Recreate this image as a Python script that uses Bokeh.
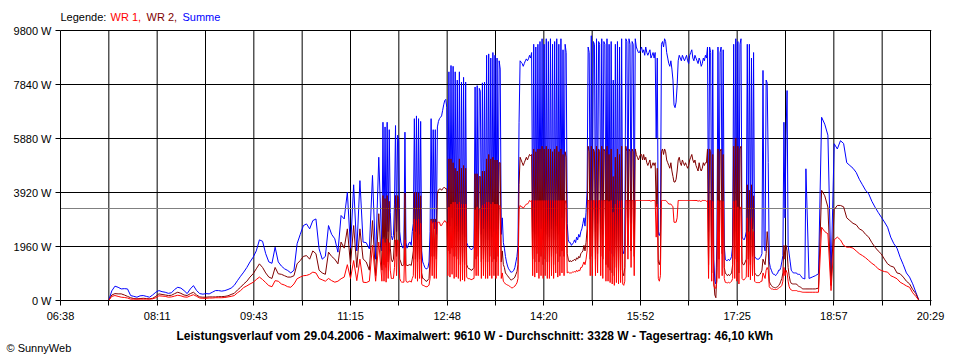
from bokeh.plotting import figure
from bokeh.models import Range1d, FixedTicker, Title
from bokeh.core.properties import value
from bokeh.embed import file_html
from bokeh.resources import INLINE

# ---- data ----
# morning: one sample every 3 minutes from 07:00
morning_start, morning_step = 7 * 3600, 180
# midday: one sample every minute from 11:45
midday_start, midday_step = 11 * 3600 + 45 * 60, 60
# evening: one sample every 3 minutes from 18:33
evening_start, evening_step = 18 * 3600 + 33 * 60, 180

summe_morning = [
    0, 0, 0, 0, 0, 0, 0, 0, 0, 350,
    520, 480, 420, 430, 420, 180, 150, 120, 170, 180,
    150, 120, 200, 300, 360, 320, 300, 260, 280, 400,
    480, 450, 360, 250, 420, 540, 360, 250, 230, 250,
    240, 300, 360, 360, 340, 360, 400, 450, 550, 720,
    880, 1030, 1200, 1400, 1570, 1800, 2200, 2150, 1700, 1400,
    1350, 1935, 1400, 1250, 1150, 1090, 1000, 1100, 2060, 2400,
    2720, 2780, 2600, 2900, 2960, 1875, 1500, 1600, 2720, 2400,
    2240, 1755, 3085, 2960, 3930, 1900, 4200, 1800, 4350, 2120,
    2100, 1875, 4540, 1500, 5200,
]
wr2_morning = [
    0, 0, 0, 0, 0, 0, 0, 0, 0, 200,
    250, 240, 240, 200, 150, 100, 70, 60, 70, 80,
    70, 60, 80, 150, 240, 220, 200, 180, 190, 250,
    300, 260, 200, 180, 250, 300, 200, 130, 120, 120,
    130, 130, 130, 140, 140, 150, 170, 220, 260, 380,
    480, 600, 700, 850, 970, 1150, 1330, 1200, 1000, 850,
    800, 1200, 970, 950, 900, 850, 850, 900, 1330, 1450,
    1600, 1630, 1500, 1800, 1700, 1100, 1000, 950, 1755, 1600,
    1500, 1330, 2120, 1900, 2600, 1300, 2720, 1200, 2600, 1510,
    1400, 1100, 2900, 900, 3150,
]
wr1_morning = [
    0, 0, 0, 0, 0, 0, 0, 0, 0, 150,
    180, 150, 120, 110, 90, 50, 50, 50, 50, 50,
    50, 50, 60, 100, 170, 160, 150, 120, 130, 160,
    190, 170, 130, 120, 170, 210, 150, 90, 80, 80,
    90, 90, 100, 100, 100, 110, 130, 150, 180, 280,
    360, 470, 530, 600, 660, 760, 850, 760, 650, 540,
    500, 720, 700, 600, 560, 500, 480, 600, 790, 850,
    900, 910, 950, 1030, 1000, 800, 750, 700, 800, 720,
    665, 700, 790, 850, 1300, 800, 1450, 720, 1500, 665,
    650, 700, 2000, 700, 2120,
]

summe_midday = [
    1800, 6470, 2300, 6300, 2000, 6470, 2500, 6200, 3200, 2360,
    2200, 2360, 3500, 6350, 2500, 6000, 5800, 2500, 2120, 2000,
    1900, 2000, 6110, 2100, 1900, 2000, 2100, 2120, 2000, 2500,
    2800, 6600, 2500, 6700, 2200, 6600, 2400, 6500, 1800, 1400,
    1300, 1200, 1150, 1150, 1200, 1400, 2500, 6600, 2800, 6200,
    2600, 6200, 2400, 6300, 6500, 6600, 6650, 6700, 6900, 7100,
    7260, 7300, 7000, 2800, 8300, 2700, 8530, 3000, 8500, 2600,
    8300, 2700, 8000, 2500, 8300, 2200, 7930, 2400, 8100, 2300,
    7930, 2100, 2000, 1950, 1900, 1850, 1850, 1900, 2000, 7750,
    2500, 7800, 2600, 7700, 7600, 2400, 7900, 2600, 7930, 2200,
    8900, 2200, 8950, 2600, 8800, 2300, 9000, 2500, 8900, 2400,
    8800, 2600, 8700, 8400, 2400, 3000, 2100, 1900, 1600, 1400,
    1250, 1150, 1100, 1030, 1030, 1050, 1100, 1200, 1400, 1600,
    2000, 6470, 8700, 8650, 8600, 8500, 8600, 8700, 8770, 8700,
    8770, 8900, 8800, 9000, 2500, 9300, 2400, 9200, 2800, 9300,
    2300, 9400, 2600, 9500, 2200, 9300, 2500, 9500, 2400, 9400,
    2300, 9500, 2600, 9300, 2200, 9400, 2700, 9500, 2400, 9300,
    2500, 9500, 3000, 9100, 2600, 9300, 9000, 2800, 2200, 2100,
    2100, 2000, 2050, 2100, 2200, 2100, 2300, 2200, 2400, 2300,
    2500, 2600, 2800, 3000, 2700, 3200, 4000, 9200, 9000, 2500,
    9610, 2600, 9400, 9300, 2500, 9500, 2800, 9400, 9300, 2600,
    9500, 2400, 9400, 9300, 2200, 9500, 2000, 9300, 1800, 9400,
    1700, 8000, 1600, 9300, 2000, 9400, 1700, 9200, 1900, 9500,
    1800, 1700, 2000, 9500, 9400, 3000, 9500, 9300, 2800, 9400,
    9300, 2600, 9500, 9200, 9100, 9000, 9000, 9100, 9200, 9000,
    9100, 8900, 9200, 9000, 8900, 9000, 9100, 8800, 8900, 9000,
    8800, 9000, 5900, 8800, 2400, 2360, 2500, 9300, 9400, 9200,
    9500, 9400, 9000, 8800, 8600, 8500, 8700, 8400, 8000, 7100,
    7000, 7200, 7800, 8700, 8900, 8800, 8700, 8900, 8800, 8700,
    8800, 8900, 8700, 8600, 8900, 9000, 9100, 8800, 8700, 8900,
    8800, 8700, 8600, 8800, 8700, 8500, 8600, 8800, 8700, 8900,
    8800, 9200, 2500, 9200, 9000, 2000, 9100, 1500, 700, 600,
    2000, 9200, 2500, 9000, 9200, 2800, 9100, 2000, 1500, 1450,
    1450, 1500, 1450, 1500, 1600, 2000, 9300, 2500, 9500, 2200,
    9400, 2000, 9300, 9500, 2300, 2240, 2200, 2300, 2500, 9300,
    2500, 9300, 2200, 8800, 2600, 9000, 1600, 1550, 1500, 1500,
    1500, 1550, 1600, 1700, 8350, 2000, 1800, 8000, 7900, 5000,
    1400, 1200, 1100, 1000, 950, 950, 900, 950, 1000, 1100,
    1100, 1200, 1400, 1630, 6470, 3000, 6000, 7620, 2000, 1690,
    1400, 1100, 1050, 1000, 1000, 1000, 1000, 950, 950, 950,
    900, 850, 800, 800, 780, 4780,
]
wr2_midday = [
    1100, 3810, 1300, 3700, 1200, 3810, 1400, 3600, 1900, 1500,
    1400, 1500, 2200, 3810, 1600, 3810, 3700, 1500, 1400, 1270,
    1270, 1300, 3900, 1300, 1270, 1270, 1300, 1300, 1270, 1500,
    1800, 3930, 1500, 3930, 1400, 3900, 1500, 3800, 1000, 800,
    790, 750, 700, 700, 750, 800, 1500, 2960, 1600, 2960,
    1600, 2960, 1500, 3900, 4000, 4050, 4050, 4000, 4050, 4100,
    4100, 4050, 4050, 1800, 5140, 1700, 5140, 1900, 5000, 1600,
    4800, 1600, 4700, 1500, 5140, 1300, 4800, 1400, 4900, 1300,
    4800, 1300, 1200, 1150, 1150, 1100, 1100, 1150, 1200, 4600,
    1500, 4600, 1600, 4500, 4500, 1400, 4700, 1500, 4700, 1400,
    5140, 1400, 5300, 1600, 5140, 1400, 5200, 1500, 5100, 1400,
    5100, 1600, 5000, 5000, 1400, 1800, 1300, 1200, 1000, 950,
    900, 850, 800, 750, 750, 780, 800, 850, 950, 1050,
    1300, 4200, 5200, 5100, 5000, 4900, 5000, 5100, 5200, 5100,
    5200, 5300, 5250, 5300, 1500, 5500, 1400, 5400, 1700, 5500,
    1400, 5500, 1600, 5600, 1300, 5500, 1500, 5600, 1400, 5500,
    1400, 5500, 1600, 5400, 1300, 5500, 1700, 5600, 1400, 5400,
    1600, 5500, 1800, 5300, 1600, 5400, 5200, 1700, 1500, 1400,
    1450, 1400, 1450, 1450, 1500, 1450, 1550, 1500, 1600, 1550,
    1700, 1750, 1800, 2000, 1800, 2100, 2600, 5600, 5400, 1500,
    5600, 1600, 5500, 5400, 1500, 5600, 1700, 5500, 5400, 1600,
    5600, 1500, 5500, 5400, 1300, 5600, 1200, 5300, 1100, 5500,
    1000, 4500, 900, 5200, 1200, 5500, 1000, 5300, 1100, 5600,
    1000, 900, 1200, 5600, 5400, 2000, 5500, 5400, 1800, 5500,
    5400, 1600, 5500, 5300, 5200, 5100, 5200, 5300, 5300, 5100,
    5300, 5100, 5200, 5000, 4900, 5000, 5100, 4800, 4900, 5000,
    4900, 5000, 3400, 4800, 1400, 1300, 1500, 5400, 5500, 5300,
    5500, 5400, 5100, 5000, 4900, 4800, 5000, 4700, 4500, 4300,
    4300, 4400, 4700, 5100, 5200, 5000, 4900, 5100, 5000, 4900,
    5000, 4900, 4800, 4900, 5100, 5200, 5300, 5100, 5000, 5100,
    4900, 4800, 4700, 5000, 4800, 4700, 4800, 5000, 4900, 5000,
    5000, 5500, 1300, 5500, 5400, 1000, 5300, 700, 200, 100,
    1200, 5500, 1500, 5400, 5500, 1700, 5300, 1200, 1000, 950,
    900, 950, 900, 950, 1000, 1300, 5600, 1500, 5900, 1400,
    5600, 1000, 5500, 5600, 1400, 1300, 1300, 1400, 1500, 4200,
    1500, 4000, 1300, 4200, 1600, 3800, 1000, 950, 900, 900,
    900, 950, 1000, 1100, 1500, 1400, 1300, 1700, 2500, 2000,
    700, 600, 550, 500, 480, 470, 460, 480, 500, 550,
    600, 700, 800, 1000, 2000, 1500, 2000, 1800, 1200, 900,
    700, 620, 605, 600, 600, 600, 600, 550, 520, 500,
    480, 450, 420, 420, 420, 420,
]
wr1_midday = [
    700, 2240, 700, 2100, 665, 2240, 800, 2100, 1100, 800,
    800, 800, 1200, 2200, 900, 2200, 2100, 800, 700, 665,
    665, 665, 2200, 700, 665, 665, 700, 700, 665, 800,
    900, 2960, 800, 2900, 700, 2960, 800, 2800, 600, 545,
    545, 520, 500, 500, 520, 560, 800, 2900, 900, 2840,
    800, 2840, 800, 2840, 2840, 2840, 2720, 2720, 2800, 2840,
    2900, 2840, 2840, 900, 3390, 850, 3500, 950, 3570, 800,
    3570, 850, 3500, 800, 3570, 700, 3500, 750, 3500, 700,
    3500, 850, 800, 790, 790, 760, 760, 790, 800, 3300,
    900, 3400, 900, 3300, 3300, 800, 3450, 900, 3500, 800,
    3570, 800, 3570, 900, 3500, 800, 3570, 900, 3500, 800,
    3500, 900, 3450, 3400, 800, 1000, 700, 650, 600, 580,
    560, 545, 520, 480, 460, 460, 500, 520, 580, 640,
    800, 3300, 3450, 3400, 3400, 3350, 3400, 3450, 3500, 3500,
    3550, 3630, 3600, 3630, 900, 3630, 850, 3630, 1000, 3630,
    800, 3630, 900, 3630, 800, 3630, 900, 3630, 800, 3630,
    800, 3630, 900, 3630, 800, 3630, 1000, 3630, 850, 3630,
    900, 3630, 1000, 3630, 900, 3630, 3500, 1000, 1030, 1000,
    1000, 1000, 1030, 1030, 1050, 1030, 1100, 1050, 1100, 1080,
    1200, 1200, 1300, 1400, 1300, 1500, 1800, 3630, 3630, 900,
    3630, 900, 3630, 3630, 900, 3630, 1000, 3630, 3630, 900,
    3630, 800, 3630, 3630, 700, 3630, 700, 3600, 650, 3630,
    600, 3200, 550, 3500, 650, 3630, 600, 3600, 650, 3630,
    600, 550, 700, 3630, 3630, 1500, 3630, 3630, 1200, 3630,
    3630, 900, 3630, 3630, 3630, 3630, 3630, 3630, 3630, 3630,
    3630, 3630, 3630, 3630, 3630, 3630, 3630, 3600, 3630, 3630,
    3630, 3630, 2300, 3500, 800, 700, 900, 3630, 3630, 3630,
    3630, 3630, 3600, 3550, 3500, 3500, 3500, 3450, 3400, 2840,
    2840, 2840, 3000, 3630, 3630, 3630, 3630, 3630, 3630, 3630,
    3630, 3630, 3630, 3630, 3630, 3630, 3630, 3630, 3630, 3630,
    3630, 3630, 3600, 3630, 3600, 3600, 3630, 3630, 3630, 3630,
    3600, 3630, 800, 3630, 3630, 700, 3600, 545, 450, 450,
    700, 3630, 800, 3600, 3630, 900, 3600, 800, 660, 650,
    640, 660, 640, 660, 700, 800, 3600, 800, 3630, 700,
    3400, 600, 3300, 3400, 800, 750, 750, 800, 850, 3000,
    850, 2500, 750, 3000, 900, 2500, 700, 660, 650, 650,
    650, 650, 700, 700, 1000, 900, 800, 1100, 1200, 1100,
    500, 450, 420, 420, 400, 400, 400, 400, 420, 450,
    480, 500, 550, 700, 1200, 900, 1100, 1000, 700, 500,
    420, 380, 360, 360, 360, 360, 360, 340, 330, 330,
    320, 310, 300, 300, 300, 300,
]

summe_evening = [
    800, 850, 900, 970, 6650, 6400, 6000, 900, 5690,
    5500, 5800, 5700, 5000, 4900, 4800, 4650, 4400, 4200, 4000,
    3870, 3600, 3390, 3200, 3025, 2850, 2660, 2300, 2060, 1900,
    1570, 1300, 1000, 850, 605, 300, 0,
]
wr2_evening = [
    420, 420, 420, 450, 4000, 3800, 3390, 545, 3300,
    3450, 3450, 3400, 3000, 2900, 2800, 2750, 2600, 2540, 2400,
    2300, 2100, 1935, 1800, 1690, 1500, 1330, 1250, 1210, 1000,
    970, 850, 700, 605, 400, 250, 0,
]
wr1_evening = [
    300, 300, 300, 300, 2660, 2500, 2420, 360, 2200,
    2300, 2200, 2000, 1935, 1935, 1900, 1800, 1700, 1630, 1550,
    1450, 1350, 1270, 1150, 1090, 1050, 1030, 900, 850, 790,
    665, 600, 530, 480, 280, 150, 0,
]

average = 3328

x_start = 23880   # 06:38 in seconds
x_end = 73740     # 20:29 in seconds
x_tick_step = 2770
x_tick_labels = ["06:38", "", "08:11", "", "09:43", "", "11:15", "", "12:48", "",
                 "14:20", "", "15:52", "", "17:25", "", "18:57", "", "20:29"]
y_ticks = [0, 1960, 3920, 5880, 7840, 9800]
y_tick_labels = ["0 W", "1960 W", "3920 W", "5880 W", "7840 W", "9800 W"]

title_text = ("Leistungsverlauf vom 29.04.2006 - Maximalwert: 9610 W - "
              "Durchschnitt: 3328 W - Tagesertrag: 46,10 kWh")
legend_texts = ["Legende:", "WR 1,", "WR 2,", "Summe"]
legend_colors = ["black", "#FF0000", "#800000", "#0000FF"]

# ---- build ----
def stitch(parts):
    ts, vs = [], []
    for start, step, vals in parts:
        ts += [start + step * i for i in range(len(vals))]
        vs += list(vals)
    return ts, vs

t_s, summe = stitch([(morning_start, morning_step, summe_morning),
                     (midday_start, midday_step, summe_midday),
                     (evening_start, evening_step, summe_evening)])
t_2, wr2 = stitch([(morning_start, morning_step, wr2_morning),
                   (midday_start, midday_step, wr2_midday),
                   (evening_start, evening_step, wr2_evening)])
t_1, wr1 = stitch([(morning_start, morning_step, wr1_morning),
                   (midday_start, midday_step, wr1_midday),
                   (evening_start, evening_step, wr1_evening)])

x_ticks = [x_start + x_tick_step * k for k in range(len(x_tick_labels))]

FONT = "Liberation Sans"
FRAME_W, FRAME_H = 870, 270      # pixel size of the 06:38-20:29 x 0-9800 W box
TOP_PX = 30                      # room above the box for the legend line
sec_per_px = (x_end - x_start) / FRAME_W
w_per_px = y_ticks[-1] / FRAME_H

p = figure(width=960, height=360,
           x_range=Range1d(x_start, x_end + sec_per_px),
           y_range=Range1d(0, y_ticks[-1] + TOP_PX * w_per_px),
           output_backend="svg", toolbar_location=None,
           min_border_left=60, min_border_right=29, min_border_top=0,
           min_border_bottom=60)
p.background_fill_color = "white"
p.border_fill_color = "white"
p.outline_line_color = None

xt = FixedTicker(ticks=x_ticks)
yt = FixedTicker(ticks=y_ticks)
p.xaxis.ticker = xt
p.yaxis.ticker = yt
p.ygrid.ticker = yt
p.xgrid.visible = False
p.yaxis.bounds = (y_ticks[0], y_ticks[-1])
p.xaxis.major_label_overrides = {t: l for t, l in zip(x_ticks, x_tick_labels)}
p.yaxis.major_label_overrides = {t: l for t, l in zip(y_ticks, y_tick_labels)}
for ax in (p.xaxis, p.yaxis):
    ax.axis_line_color = "black"
    ax.major_tick_line_color = "black"
    ax.minor_tick_line_color = None
    ax.major_tick_out = 5
    ax.major_tick_in = 0
    ax.major_label_text_font = FONT
    ax.major_label_text_font_size = "11px"
    ax.major_label_text_color = "black"
p.xaxis.major_label_standoff = 4
p.yaxis.major_label_standoff = 4
p.ygrid.grid_line_color = "black"
p.ygrid.grid_line_alpha = 1
p.ygrid.grid_line_width = 1

# vertical grid lines only up to the 9800 W line (last one closes the box)
p.segment(x0=x_ticks, y0=[y_ticks[0]] * len(x_ticks), x1=x_ticks,
          y1=[y_ticks[-1]] * len(x_ticks), line_color="black", line_width=1)

p.line(t_s, summe, line_color="#0000FF", line_width=1)
p.hspan(y=[average], line_color="#808080", line_width=1)
p.line(t_2, wr2, line_color="#800000", line_width=1)
p.line(t_1, wr1, line_color="#FF0000", line_width=1)

# legend line above the box
legend_px = [0, 50, 86, 122]
p.text(x=[x_start + px * sec_per_px for px in legend_px],
       y=[y_ticks[-1] + 13.5 * w_per_px] * len(legend_texts),
       text=legend_texts, text_color=legend_colors, text_font=value(FONT),
       text_font_size="11px", text_baseline="middle", text_align="left")

p.add_layout(Title(text=title_text, align="left", offset=116, text_font=FONT,
                   text_font_size="12px", text_font_style="bold",
                   text_color="black", standoff=5), "below")
p.add_layout(Title(text="\u00a9 SunnyWeb", align="left", offset=-54, text_font=FONT,
                   text_font_size="11px", text_font_style="normal",
                   text_color="black", standoff=-11), "below")

open("out.html", "w").write(file_html(p, INLINE))
